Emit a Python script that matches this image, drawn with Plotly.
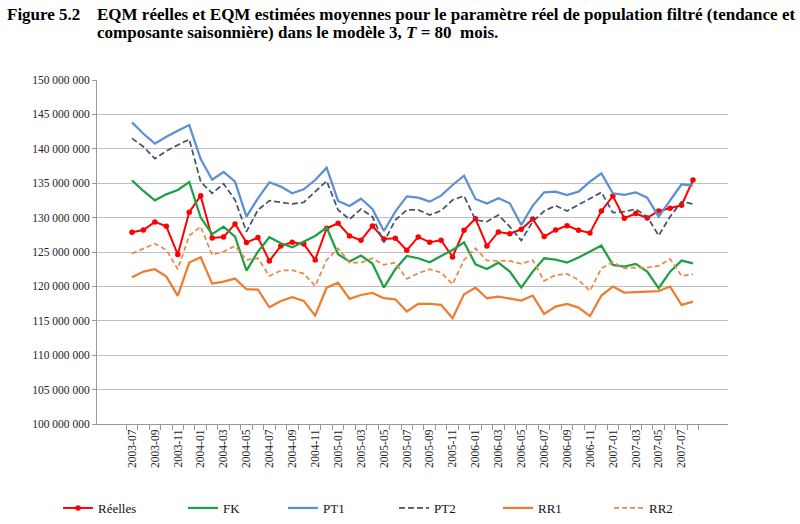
import plotly.graph_objects as go

months = []
y, m = 2003, 7
for _ in range(50):
    months.append(f"{y}-{m:02d}")
    m += 1
    if m > 12:
        m = 1
        y += 1

reelles = [127.87, 128.2, 129.37, 128.74, 124.62, 130.77, 133.19, 127.04, 127.19, 129.08,
           126.37, 127.09, 123.7, 125.88, 126.41, 126.17, 123.85, 128.45, 129.17, 127.33,
           126.7, 128.79, 126.9, 126.99, 125.25, 127.19, 126.41, 126.7, 124.28, 128.16,
           129.85, 125.88, 127.91, 127.67, 128.3, 129.8, 127.24, 128.2, 128.83, 128.16,
           127.77, 130.96, 133.14, 129.9, 130.58, 129.95, 130.96, 131.35, 131.79, 135.46]
fk = [135.42, 133.87, 132.51, 133.38, 134.01, 135.17, 130.0, 127.58, 128.69, 127.24,
      122.3, 125.06, 127.14, 126.27, 125.69, 126.51, 127.33, 128.55, 124.67, 123.61,
      124.48, 123.32, 119.83, 122.49, 124.43, 124.09, 123.51, 124.43, 125.3, 126.41,
      123.21, 122.53, 123.45, 122.15, 119.83, 122.15, 124.09, 123.9, 123.46, 124.19,
      125.06, 125.93, 123.12, 122.88, 123.27, 122.15, 119.73, 122.15, 123.75, 123.36]
pt1 = [143.84, 142.19, 140.74, 141.76, 142.63, 143.45, 138.51, 135.51, 136.63, 135.22,
       130.14, 132.8, 135.13, 134.5, 133.53, 134.11, 135.46, 137.26, 132.42, 131.69,
       132.75, 131.25, 128.06, 130.87, 133.09, 132.9, 132.32, 133.19, 134.74, 136.09,
       132.71, 132.03, 132.8, 132.08, 128.93, 131.74, 133.67, 133.77, 133.29, 133.77,
       135.22, 136.43, 133.53, 133.29, 133.67, 132.9, 130.14, 132.56, 134.84, 134.64]
pt2 = [141.52, 140.3, 138.56, 139.68, 140.55, 141.37, 135.22, 133.53, 134.93, 132.56,
       127.96, 131.11, 132.46, 132.17, 131.98, 132.22, 133.77, 135.32, 131.11, 129.75,
       131.25, 130.14, 126.41, 129.65, 131.11, 131.11, 130.38, 131.01, 132.56, 133.14,
       129.65, 129.41, 130.38, 128.69, 126.66, 129.41, 130.96, 131.74, 130.96, 131.83,
       132.8, 133.67, 130.72, 130.87, 131.21, 130.14, 127.38, 130.14, 132.32, 131.98]
rr1 = [121.33, 122.15, 122.49, 121.43, 118.62, 123.46, 124.24, 120.41, 120.7, 121.14,
       119.59, 119.54, 116.97, 117.89, 118.43, 117.89, 115.76, 119.81, 120.53, 118.18,
       118.75, 119.04, 118.28, 118.13, 116.35, 117.46, 117.46, 117.31, 115.38, 118.84,
       119.81, 118.28, 118.52, 118.18, 117.94, 118.67, 116.0, 117.07, 117.46, 116.92,
       115.67, 118.67, 119.98, 119.11, 119.16, 119.21, 119.31, 119.98, 117.31, 117.79]
rr2 = [124.77, 125.44, 126.22, 125.3, 122.49, 127.38, 128.69, 124.57, 125.06, 125.88,
       123.85, 124.09, 121.52, 122.3, 122.35, 121.86, 120.07, 123.84, 125.54, 123.46,
       123.46, 124.09, 123.12, 123.46, 121.09, 121.91, 122.49, 122.0, 120.31, 123.84,
       125.54, 123.75, 123.75, 123.7, 123.27, 123.84, 120.79, 121.66, 121.81, 120.94,
       119.34, 122.64, 123.51, 122.64, 122.74, 122.74, 122.98, 123.99, 121.52, 121.77]

y_ticks = list(range(100_000_000, 150_000_001, 5_000_000))
y_ticktext = [f"{v:,}".replace(",", " ") for v in y_ticks]

SERIF = "Liberation Serif"

def scale(vals):
    return [v * 1_000_000 for v in vals]

W, H = 800, 524
L, R, T, B = 97, 72, 80, 100
pw, ph = W - L - R, H - T - B

series = [
    ("Réelles", reelles, dict(color="#FF0000", width=2), True),
    ("FK", fk, dict(color="#1EA045", width=2.25), False),
    ("PT1", pt1, dict(color="#5B8FD6", width=2.25), False),
    ("PT2", pt2, dict(color="#44546A", width=1.75, dash="6px,3px"), False),
    ("RR1", rr1, dict(color="#ED7D31", width=2.25), False),
    ("RR2", rr2, dict(color="#E8894A", width=1.75, dash="5px,3px"), False),
]
legend_x = [58, 183, 283, 394, 498, 609]

fig = go.Figure()
legends = {}
for i, (name, vals, line, markers) in enumerate(series):
    lg = "legend" if i == 0 else f"legend{i + 1}"
    fig.add_trace(go.Scatter(
        x=months, y=scale(vals), name=name,
        mode="lines+markers" if markers else "lines",
        line=line, marker=dict(size=5.5, color=line["color"]) if markers else None,
        legend=lg))
    legends[lg] = dict(orientation="h", x=legend_x[i] / W, xanchor="left", xref="container",
                       y=16 / H, yanchor="middle", yref="container",
                       bgcolor="rgba(0,0,0,0)",
                       font=dict(family=SERIF, size=13, color="#111"))

fig.update_layout(
    width=W, height=H,
    margin=dict(l=L, r=R, t=T, b=B),
    paper_bgcolor="white", plot_bgcolor="white",
    font=dict(family=SERIF, size=11.5, color="#222"),
    showlegend=True,
    xaxis=dict(type="category", tickvals=months,
               ticktext=[mm if i % 2 == 0 else "" for i, mm in enumerate(months)],
               tickangle=-90, tickson="boundaries", ticks="outside", ticklen=5,
               tickcolor="#999", showline=True, linecolor="#999", linewidth=1,
               showgrid=False, tickfont=dict(family=SERIF, size=11.5, color="#222")),
    yaxis=dict(range=[100_000_000, 150_000_000], tickvals=y_ticks, ticktext=y_ticktext,
               showgrid=True, gridcolor="#BFBFBF", gridwidth=1, zeroline=False,
               showline=True, linecolor="#999", linewidth=1,
               ticks="outside", ticklen=4, tickcolor="#999",
               tickfont=dict(family=SERIF, size=11.5, color="#222")),
    **legends,
)

def px2paper(px, py):
    return (px - L) / pw, 1 - (py - T) / ph

for px, py, txt in [
    (5, 15, "<b>Figure 5.2</b>"),
    (95, 15, "<b>EQM réelles et EQM estimées moyennes pour le paramètre réel de population filtré (tendance et</b>"),
    (95, 33, "<b>composante saisonnière) dans le modèle 3, <i>T</i> = 80  mois.</b>"),
]:
    ax, ay = px2paper(px, py)
    fig.add_annotation(x=ax, y=ay, xref="paper", yref="paper", text=txt,
                       showarrow=False, xanchor="left", yanchor="middle",
                       font=dict(family=SERIF, size=17, color="#000"))

fig.write_html("out.html")
